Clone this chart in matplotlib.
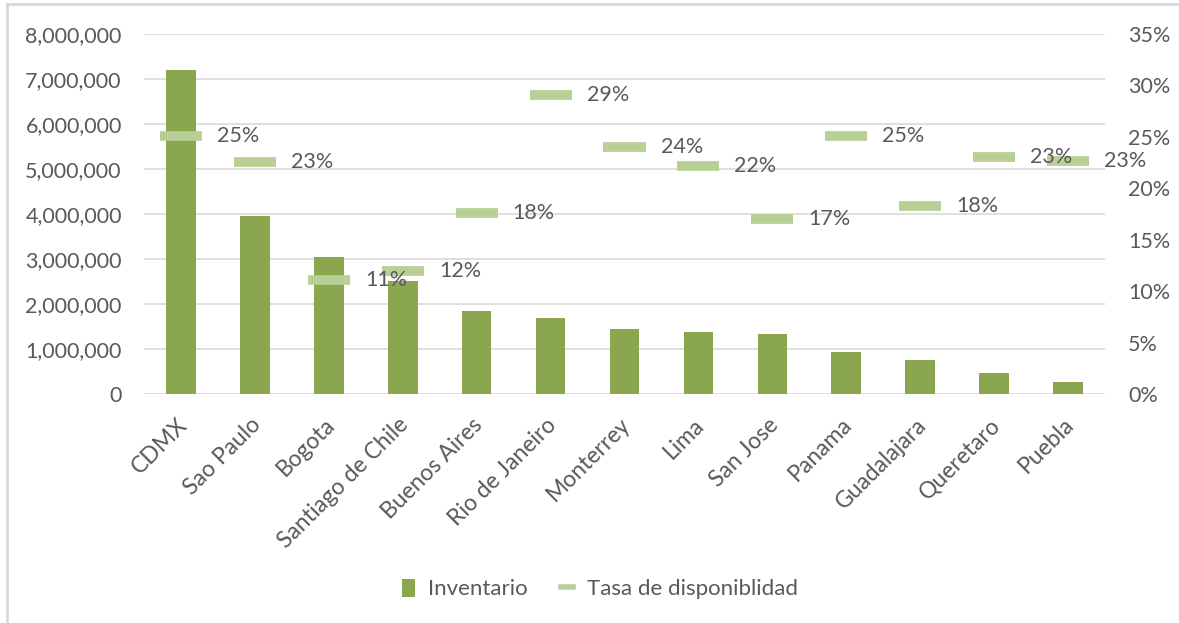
import numpy as np
import matplotlib.pyplot as plt
from matplotlib.lines import Line2D
from matplotlib.patches import Patch
from matplotlib.ticker import FuncFormatter, MultipleLocator

ciudades = ["CDMX", "Sao Paulo", "Bogota", "Santiago de Chile", "Buenos Aires",
            "Rio de Janeiro", "Monterrey", "Lima", "San Jose", "Panama",
            "Guadalajara", "Queretaro", "Puebla"]
inventario = [7200000, 3950000, 3040000, 2510000, 1850000, 1680000, 1450000,
              1370000, 1340000, 940000, 745000, 457000, 257000]
tasa = [0.251, 0.226, 0.111, 0.120, 0.176, 0.291, 0.240, 0.222, 0.170,
        0.251, 0.183, 0.230, 0.227]

plt.rcParams['font.family'] = ['Lato', 'DejaVu Sans']
gris = '#595959'
verde = '#8aa64e'
verde_claro = '#b8cf96'

fig = plt.figure(figsize=(11.79, 6.23), dpi=100)
W, H = 1179, 623
ax = fig.add_axes([144 / W, 1 - 394 / H, (1105 - 144) / W, (394 - 34) / H])
ax2 = ax.twinx()

x = np.arange(len(ciudades))
ax.bar(x, inventario, width=0.4, color=verde, zorder=3)
ax.set_xlim(-0.5, len(ciudades) - 0.5)
ax.set_ylim(0, 8000000)
ax.yaxis.set_major_locator(MultipleLocator(1000000))
ax.yaxis.set_major_formatter(FuncFormatter(lambda v, p: f"{int(v):,}"))
ax.grid(axis='y', color='#d9d9d9', linewidth=1.2, zorder=0)
ax.set_axisbelow(True)

# tasa de disponibilidad como guiones
for xi, t in zip(x, tasa):
    ax2.plot([xi - 0.285, xi + 0.285], [t, t], color=verde_claro,
             linewidth=7, solid_capstyle='butt', zorder=4)
    ax2.annotate(f"{round(t * 100):.0f}%", (xi + 0.285, t), xytext=(15, 0),
                 textcoords='offset pixels', ha='left', va='center',
                 fontsize=15.5, color=gris, zorder=5)
ax2.set_ylim(0, 0.35)
ax2.yaxis.set_major_locator(MultipleLocator(0.05))
ax2.yaxis.set_major_formatter(FuncFormatter(lambda v, p: f"{v * 100:.0f}%"))

for a in (ax, ax2):
    for s in a.spines.values():
        s.set_visible(False)
    a.tick_params(length=0, labelsize=15.5, colors=gris)
ax.tick_params(axis='y', pad=16)
ax2.tick_params(axis='y', pad=16.5)

ax.set_xticks(x)
ax.set_xticklabels([])
for xi, c in zip(x, ciudades):
    ax.annotate(c, (xi, 0), xycoords=('data', 'axes fraction'),
                xytext=(10, -20), textcoords='offset pixels',
                rotation=45, ha='right', va='top', fontsize=16.5, color=gris)

handles = [Patch(facecolor=verde, label='Inventario'),
           Line2D([], [], color=verde_claro, linewidth=4, label='Tasa de disponiblidad')]
leg = fig.legend(handles=handles, loc='center', bbox_to_anchor=(600 / W, 1 - 589 / H),
                 ncol=2, frameon=False, fontsize=16, handlelength=0.55,
                 handleheight=0.9, handletextpad=0.6, columnspacing=1.5)
for t in leg.get_texts():
    t.set_color(gris)

# marco del grafico
fig.add_artist(Line2D([7 / W, 7 / W], [0, 1 - 4 / H], color='#d9d9d9', linewidth=2))
fig.add_artist(Line2D([7 / W, 1], [1 - 4 / H, 1 - 4 / H], color='#d9d9d9', linewidth=2))

fig.savefig('out.png', dpi=100)
